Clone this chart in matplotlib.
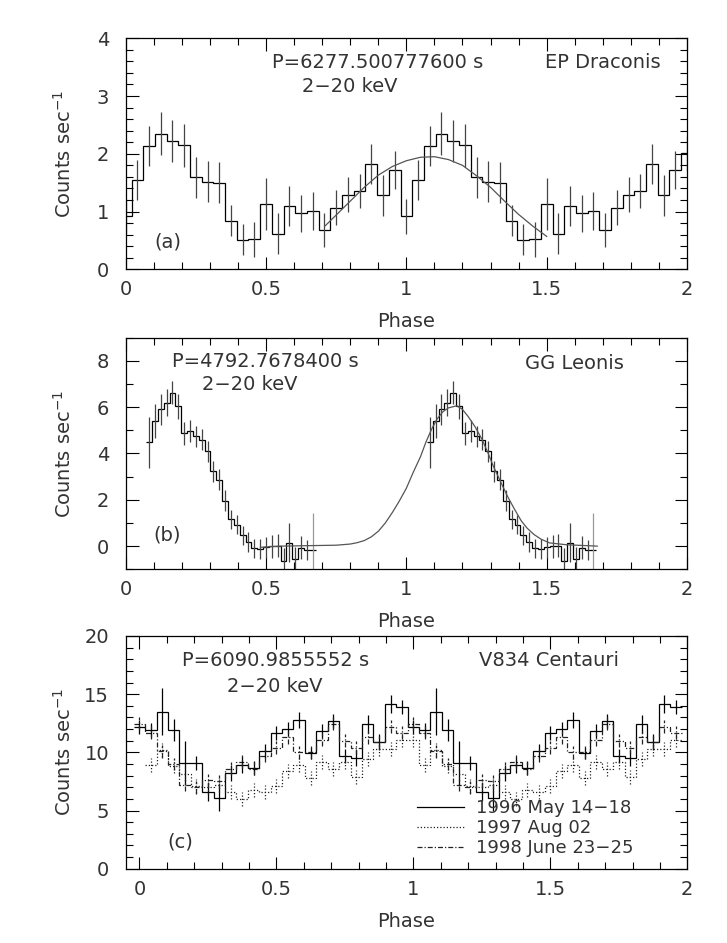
import numpy as np
import matplotlib
matplotlib.use("Agg")
import matplotlib.pyplot as plt
from matplotlib.ticker import MultipleLocator, FuncFormatter

# ---- data: (a) EP Draconis, 24 bins per cycle, one cycle
a_counts = [0.92, 1.55, 2.14, 2.35, 2.22, 2.15, 1.59, 1.52, 1.50, 0.84, 0.51, 0.52,
            1.13, 0.62, 1.10, 0.97, 1.01, 0.68, 1.07, 1.29, 1.36, 1.82, 1.28, 1.72]
a_err = [0.30, 0.35, 0.35, 0.37, 0.37, 0.37, 0.355, 0.35, 0.355, 0.27, 0.27, 0.30,
         0.45, 0.35, 0.35, 0.32, 0.33, 0.29, 0.30, 0.30, 0.29, 0.35, 0.35, 0.33]
a_last = 2.01  # last bin at phase 2
a_model_phase = [0.71, 0.75, 0.80, 0.85, 0.90, 0.95, 1.00, 1.05, 1.10, 1.15,
                 1.20, 1.25, 1.30, 1.35, 1.40, 1.45, 1.50]
a_model = [0.75, 0.94, 1.18, 1.42, 1.63, 1.78, 1.88, 1.94, 1.95, 1.90,
           1.80, 1.62, 1.42, 1.18, 0.95, 0.75, 0.57]

# ---- (b) GG Leonis, 48 bins per cycle, bins 4..32 covered
b_counts = [4.48, 5.40, 5.90, 6.20, 6.62, 6.03, 4.88, 4.98, 4.74, 4.60, 4.10, 3.23,
            2.87, 1.97, 1.15, 0.93, 0.46, 0.17, -0.10, -0.12, -0.05, 0.00, 0.02,
            -0.65, 0.15, -0.57, -0.07, -0.17, -0.17]
b_err = [1.10, 0.75, 0.68, 0.57, 0.50, 0.54, 0.50, 0.48, 0.45, 0.45, 0.45, 0.45,
         0.45, 0.45, 0.42, 0.42, 0.42, 0.42, 0.42, 0.42, 0.45, 0.50, 0.50,
         0.57, 0.85, 0.55, 0.50, 0.45, 1.62]
b_model_phase = [0.48, 0.55, 0.65, 0.75, 0.80, 0.825, 0.85, 0.875, 0.90, 0.925,
                 0.95, 0.975, 1.00, 1.025, 1.05, 1.07, 1.09, 1.11, 1.13, 1.15,
                 1.18, 1.20, 1.22, 1.245, 1.27, 1.29, 1.31, 1.335, 1.36, 1.385,
                 1.41, 1.43, 1.455, 1.48, 1.51, 1.57, 1.68]
b_model = [-0.05, 0.0, 0.02, 0.04, 0.09, 0.15, 0.24, 0.40, 0.64, 1.00,
           1.45, 1.95, 2.50, 3.20, 3.85, 4.50, 5.05, 5.50, 5.80, 5.97,
           6.06, 5.90, 5.60, 5.15, 4.60, 4.05, 3.45, 2.80, 2.16, 1.60,
           1.08, 0.78, 0.50, 0.30, 0.14, 0.06, 0.0]

# ---- (c) V834 Centauri, three epochs, 24 bins per cycle
c_1996 = [12.2, 11.9, 13.5, 11.9, 9.1, 9.1, 6.6, 6.1, 8.2, 8.9, 8.65, 10.1,
          11.7, 12.0, 12.8, 9.9, 11.8, 12.7, 9.7, 9.5, 12.45, 10.9, 14.15, 13.9]
c_1996_err = [0.6, 0.6, 2.0, 0.95, 1.9, 0.6, 0.8, 1.1, 0.7, 0.7, 0.6, 0.6,
              0.6, 0.6, 0.7, 0.5, 0.6, 0.6, 0.6, 0.7, 0.8, 0.7, 0.75, 0.6]
c_1997 = [11.1, 8.9, 10.2, 8.8, 8.1, 7.1, 7.0, 7.2, 6.6, 6.0, 6.8, 6.6,
          7.1, 8.4, 8.9, 7.8, 9.2, 8.6, 9.2, 7.9, 9.4, 10.3, 10.3, 11.1]
c_1997_err = [0.6] * 24
c_1998 = [12.45, 11.7, 10.1, 9.0, 7.2, 7.0, 7.6, 7.5, 8.6, 9.2, 8.6, 9.7,
          10.4, 11.3, 10.0, 10.0, 11.1, 12.45, 11.0, 10.4, 11.3, 10.85, 12.2, 11.7]
c_1998_err = [0.55] * 24
c_labels = ["1996 May 14\u221218", "1997 Aug 02", "1998 June 23\u221225"]

FS = 14
TXT = "#333333"
ERR = "#444444"
DOTTED = (0, (1, 1.6))
DASHDOT = (0, (4, 1.6, 1, 1.6))


def stairs_from_centres(ax, centres, values, **kw):
    centres = np.asarray(centres)
    w = centres[1] - centres[0]
    edges = np.append(centres - w / 2, centres[-1] + w / 2)
    ax.stairs(values, edges, baseline=None, **kw)


def label(ax, x, y, s):
    ax.text(x, y, s, transform=ax.transAxes, fontsize=FS, color=TXT,
            va="center", ha="center")


def style(ax, xlim, ylim, ymaj, ymin):
    ax.set_xlim(*xlim)
    ax.set_ylim(*ylim)
    ax.xaxis.set_major_locator(MultipleLocator(0.5))
    ax.xaxis.set_minor_locator(MultipleLocator(0.1))
    ax.yaxis.set_major_locator(MultipleLocator(ymaj))
    ax.yaxis.set_minor_locator(MultipleLocator(ymin))
    fmt = FuncFormatter(lambda v, p: "%g" % v)
    ax.xaxis.set_major_formatter(fmt)
    ax.yaxis.set_major_formatter(fmt)
    ax.tick_params(which="both", direction="in", top=True, right=True,
                   labelsize=FS, labelcolor=TXT, width=0.8)
    ax.tick_params(which="major", length=9)
    ax.tick_params(which="minor", length=5)
    ax.tick_params(axis="x", pad=8)
    ax.tick_params(axis="y", pad=12)
    for s in ax.spines.values():
        s.set_linewidth(0.9)
    ax.set_xlabel("Phase", fontsize=FS, color=TXT)
    ax.set_ylabel("Counts sec$^{-1}$", fontsize=FS, color=TXT)
    ax.xaxis.set_label_coords(0.5, -0.185)
    ax.yaxis.set_label_coords(-0.09, 0.5)


fig = plt.figure(figsize=(7.27, 9.43), dpi=100)
ax_a = fig.add_axes([0.1729, 0.7144, 0.7721, 0.2450])
ax_b = fig.add_axes([0.1729, 0.3963, 0.7721, 0.2456])
ax_c = fig.add_axes([0.1729, 0.0788, 0.7725, 0.2468])

# ---- panel (a)
a_phase = np.arange(49) / 24
a_vals = np.concatenate([np.tile(a_counts, 2), [a_last]])
a_errs = np.concatenate([np.tile(a_err, 2), [0.3]])
stairs_from_centres(ax_a, a_phase, a_vals, color="black", lw=0.9)
ax_a.errorbar(a_phase, a_vals, yerr=a_errs, fmt="none", ecolor=ERR, elinewidth=0.9)
ax_a.plot(a_model_phase, a_model, color="#555555", lw=0.9)
style(ax_a, (0, 2), (0, 4), 1, 0.2)
label(ax_a, 0.4495, 0.897, "P=6277.500777600 s")
label(ax_a, 0.40, 0.79, "2\u221220 keV")
label(ax_a, 0.850, 0.897, "EP Draconis")
label(ax_a, 0.0745, 0.12, "(a)")

# ---- panel (b)
b_phase1 = np.arange(4, 33) / 48
for off in (0, 1):
    ph = b_phase1 + off
    stairs_from_centres(ax_b, ph, b_counts, color="black", lw=0.9)
    ax_b.errorbar(ph[:-1], b_counts[:-1], yerr=b_err[:-1], fmt="none",
                  ecolor=ERR, elinewidth=0.9)
    ax_b.errorbar(ph[-1:], b_counts[-1:], yerr=b_err[-1:], fmt="none",
                  ecolor="#999999", elinewidth=0.9)
ax_b.plot(b_model_phase, b_model, color="#555555", lw=0.9)
style(ax_b, (0, 2), (-1, 9), 2, 1)
label(ax_b, 0.249, 0.897, "P=4792.7678400 s")
label(ax_b, 0.2206, 0.80, "2\u221220 keV")
label(ax_b, 0.800, 0.89, "GG Leonis")
label(ax_b, 0.074, 0.146, "(b)")

# ---- panel (c)
c_phase = np.arange(48) / 24
series = [
    (c_1996, c_1996_err, "-", "black", 0),
    (c_1997, c_1997_err, DOTTED, "#222222", 1),
    (c_1998, c_1998_err, DASHDOT, "#222222", 0),
]
for (vals, errs, ls, col, start), lab in zip(series, c_labels):
    v = np.tile(vals, 2)[start:]
    e = np.tile(errs, 2)[start:]
    ph = c_phase[start:]
    stairs_from_centres(ax_c, ph, v, color=col, lw=0.9, linestyle=ls)
    eb = ax_c.errorbar(ph, v, yerr=e, fmt="none", ecolor=col, elinewidth=0.9)
    eb[2][0].set_linestyle(ls)
    ax_c.plot([], [], color=col, lw=0.9, linestyle=ls, label=lab)
style(ax_c, (-0.05, 2.0), (0, 20), 5, 1)
label(ax_c, 0.266, 0.895, "P=6090.9855552 s")
label(ax_c, 0.265, 0.783, "2\u221220 keV")
label(ax_c, 0.753, 0.895, "V834 Centauri")
label(ax_c, 0.0967, 0.113, "(c)")
leg = ax_c.legend(loc="lower right", bbox_to_anchor=(0.905, 0.05),
                  frameon=False, fontsize=13, handlelength=2.6,
                  handletextpad=0.7, labelspacing=0.1, borderpad=0,
                  borderaxespad=0)
for t in leg.get_texts():
    t.set_color(TXT)

fig.savefig("out.png", dpi=100)
